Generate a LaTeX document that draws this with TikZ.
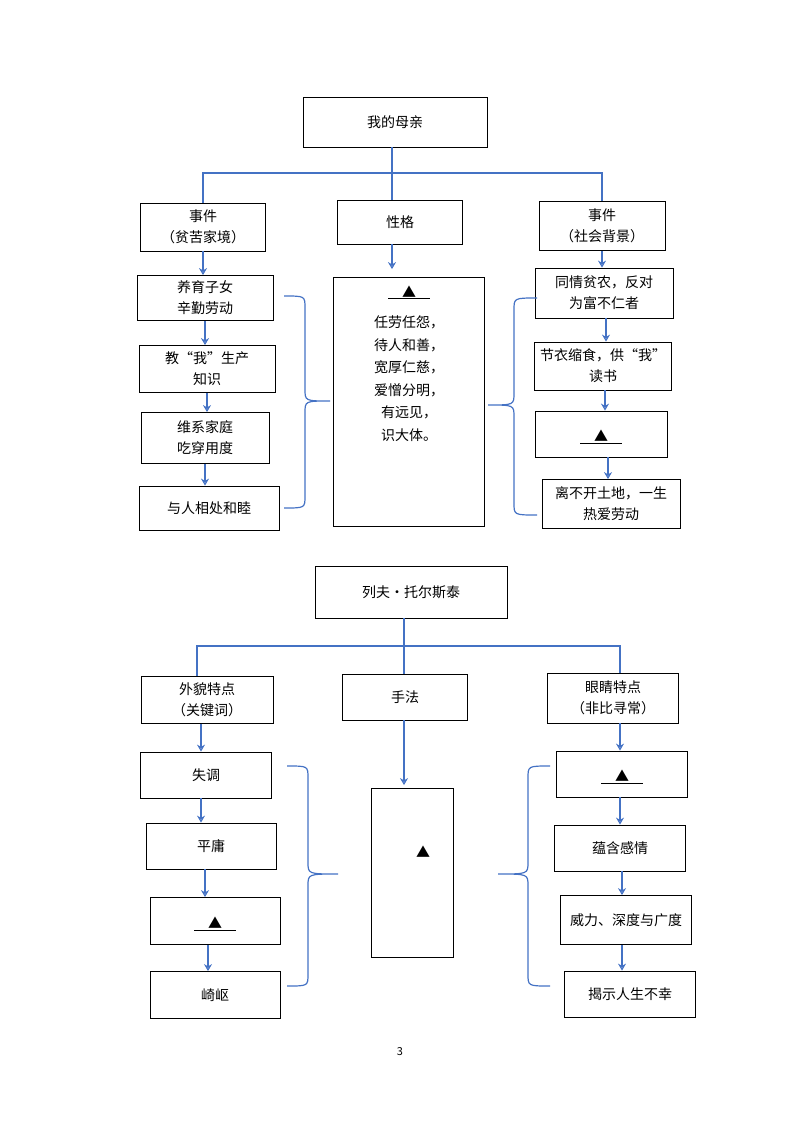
\documentclass[tikz,border=0pt]{standalone}
\usepackage{fontspec}
\setmainfont{Noto Sans CJK SC}
\usetikzlibrary{arrows.meta,positioning}
\definecolor{lineblue}{HTML}{4472C4}
\tikzset{
  box/.style={draw=black,line width=0.8pt,align=center,font=\fontsize{14}{21}\selectfont,inner sep=2pt},
  conn/.style={draw=lineblue,line width=1.2pt},
  arr/.style={conn,-{Stealth[open,length=7pt,width=8pt]}},
}
% curly brace: arm x, top y, bottom y, middle x, tip x, tip y
\newcommand{\mbrace}[6]{%
  \draw[conn] (#1,#2) .. controls (#4,#2) .. (#4,#2+12) -- (#4,#6-12)
    .. controls (#4,#6) .. (#5,#6) .. controls (#4,#6) .. (#4,#6+12)
    -- (#4,#3-12) .. controls (#4,#3) .. (#1,#3);}
\newcommand{\blank}{\underline{\hspace{14pt}▲\hspace{14pt}}}
\begin{document}
\begin{tikzpicture}[x=1pt,y=-1pt]
\useasboundingbox (0,0) rectangle (800,1130);
% upper chart
\node[box,minimum width=184,minimum height=50] (mother) at (395,122) {我的母亲};
\node[box,minimum width=125,minimum height=48] (ev1) at (203,227) {事件\\（贫苦家境）};
\node[box,minimum width=125,minimum height=44] (xg) at (400,222) {性格};
\node[box,minimum width=126,minimum height=49] (ev2) at (602,226) {事件\\（社会背景）};
\coordinate (j1) at (392,173);
\draw[conn] (j1 |- mother.south) -- (j1 |- xg.north);
\draw[conn] (ev1.north) |- (j1) -| (ev2.north);

\node[box,minimum width=136,minimum height=45] (a1) at (205,298) {养育子女\\辛勤劳动};
\node[box,minimum width=136,minimum height=47] (a2) at (207,369) {教“我”生产\\知识};
\node[box,minimum width=128,minimum height=51] (a3) at (205,438) {维系家庭\\吃穿用度};
\node[box,minimum width=140,minimum height=44] (a4) at (209,508) {与人相处和睦};
\draw[arr] (ev1.south) -- (ev1.south |- a1.north);
\draw[arr] (a1.south) -- (a1.south |- a2.north);
\draw[arr] (a2.south) -- (a2.south |- a3.north);
\draw[arr] (a3.south) -- (a3.south |- a4.north);

\node[box,minimum width=151,minimum height=249] (big) at (409,402) {};
\node[font=\fontsize{14}{22.5}\selectfont,align=center,anchor=north] (bigtext) at (409,282)
  {\blank\\[8pt]任劳任怨，\\待人和善，\\宽厚仁慈，\\爱憎分明，\\有远见，\\识大体。};
\draw[arr] (j1 |- xg.south) -- ([yshift=8pt]j1 |- big.north);

\node[box,minimum width=138,minimum height=50] (b1) at (604,293) {同情贫农，反对\\为富不仁者};
\node[box,minimum width=137,minimum height=48] (b2) at (603,366) {节衣缩食，供“我”\\读书};
\node[box,minimum width=132,minimum height=46] (b3) at (601,434) {\\[-4pt]\blank};
\node[box,minimum width=138,minimum height=49] (b4) at (611,504) {离不开土地，一生\\热爱劳动};
\draw[arr] (ev2.south) -- (ev2.south |- b1.north);
\draw[arr] ([xshift=2pt]b1.south) -- ([xshift=2pt]b1.south |- b2.north);
\draw[arr] ([xshift=2pt]b2.south) -- ([xshift=2pt]b2.south |- b3.north);
\draw[arr] ([xshift=7pt]b3.south) -- ([xshift=7pt]b3.south |- b4.north);

\mbrace{284}{296}{508}{305}{330}{401}
\mbrace{537}{298}{515}{514}{488}{405}

% lower chart
\node[box,minimum width=192,minimum height=52] (tol) at (411,592) {列夫·托尔斯泰};
\node[box,minimum width=132,minimum height=47] (wm) at (207,700) {外貌特点\\（关键词）};
\node[box,minimum width=125,minimum height=46] (sf) at (405,697) {手法};
\node[box,minimum width=131,minimum height=50] (yj) at (613,698) {眼睛特点\\（非比寻常）};
\coordinate (j2) at (404,646);
\draw[conn] (j2 |- tol.south) -- (j2 |- sf.north);
\draw[conn] ([xshift=-10pt]wm.north) |- (j2) -| ([xshift=7pt]yj.north);

\node[box,minimum width=131,minimum height=46] (c1) at (206,775) {失调};
\node[box,minimum width=130,minimum height=46] (c2) at (211,846) {平庸};
\node[box,minimum width=130,minimum height=47] (c3) at (215,921) {\\[-4pt]\blank};
\node[box,minimum width=130,minimum height=47] (c4) at (215,995) {崎岖};
\draw[arr] ([xshift=-6pt]wm.south) -- ([xshift=-6pt]wm.south |- c1.north);
\draw[arr] ([xshift=-5pt]c1.south) -- ([xshift=-5pt]c1.south |- c2.north);
\draw[arr] ([xshift=-6pt]c2.south) -- ([xshift=-6pt]c2.south |- c3.north);
\draw[arr] ([xshift=-7pt]c3.south) -- ([xshift=-7pt]c3.south |- c4.north);

\node[box,minimum width=82,minimum height=169] (cb) at (412,873) {};
\node[font=\fontsize{14}{18}\selectfont] (cbtext) at (423,852) {▲};
\draw[arr] (j2 |- sf.south) -- ([yshift=3pt]j2 |- cb.north);

\node[box,minimum width=131,minimum height=46] (d1) at (622,774) {\\[-4pt]\blank};
\node[box,minimum width=131,minimum height=46] (d2) at (620,848) {蕴含感情};
\node[box,minimum width=131,minimum height=49] (d3) at (626,920) {威力、深度与广度};
\node[box,minimum width=131,minimum height=46] (d4) at (630,994) {揭示人生不幸};
\draw[arr] ([xshift=7pt]yj.south) -- ([xshift=7pt]yj.south |- d1.north);
\draw[arr] ([xshift=-2pt]d1.south) -- ([xshift=-2pt]d1.south |- d2.north);
\draw[arr] ([xshift=2pt]d2.south) -- ([xshift=2pt]d2.south |- d3.north);
\draw[arr] ([xshift=-4pt]d3.south) -- ([xshift=-4pt]d3.south |- d4.north);

\mbrace{287}{766}{986}{308}{338}{874}
\mbrace{550}{766}{986}{528}{498}{874}

\node[font=\fontsize{11}{13}\selectfont] (page) at (400,1052) {3};
\end{tikzpicture}
\end{document}
